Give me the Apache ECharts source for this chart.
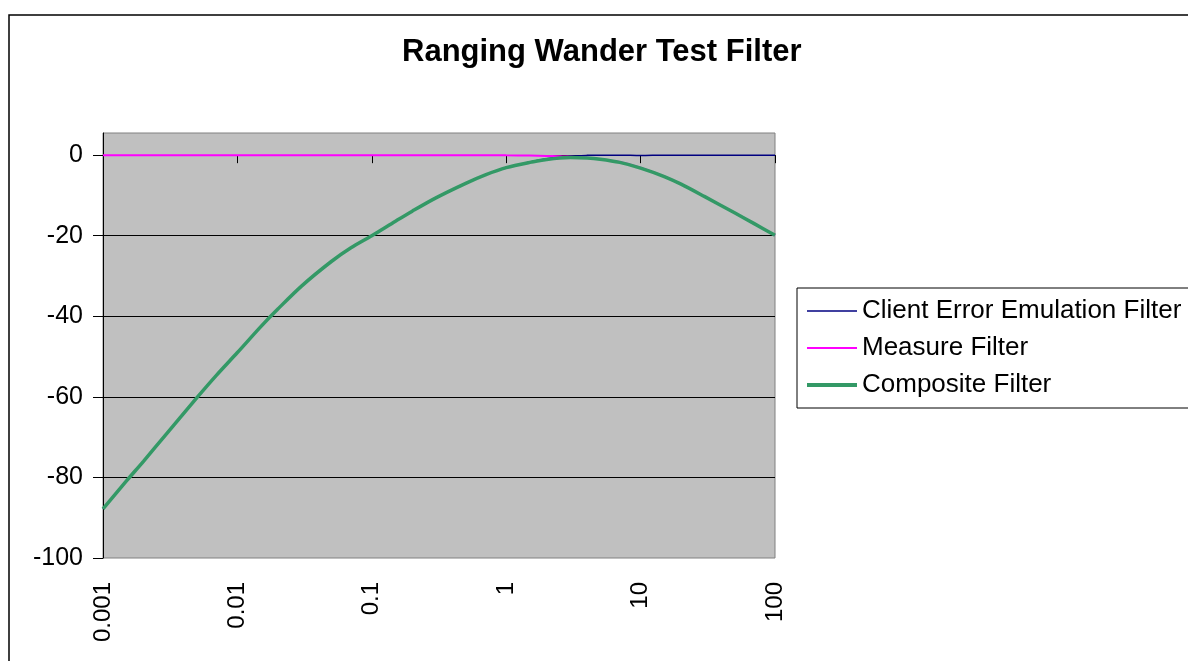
<!DOCTYPE html>
<html>
<head>
<meta charset="utf-8">
<title>Ranging Wander Test Filter</title>
<script src="https://cdn.jsdelivr.net/npm/echarts@6/dist/echarts.min.js"></script>
<style>
  html, body { margin: 0; padding: 0; background: #fff; }
  #main { width: 1188px; height: 661px; }
</style>
</head>
<body>
<div id="main"></div>
<script>
// frequency points (log x)
const freq = [0.001, 0.0015, 0.002, 0.003, 0.005, 0.007, 0.01, 0.015, 0.02, 0.03, 0.05, 0.07,
  0.1, 0.15, 0.2, 0.3, 0.5, 0.7, 1, 1.5, 2, 2.5, 3, 4, 5, 7, 10, 15, 20, 30, 50, 70, 100];

// (dB)
const clientFilter = [-87.8, -80.8, -76.0, -69.0, -60.2, -54.6, -49.0, -42.5, -38.2, -32.5, -26.4, -23.0,
  -20.0, -16.4, -13.9, -10.6, -7.0, -4.9, -3.05, -1.7, -0.9, -0.45, -0.2, -0.05, 0, 0, -0.1, 0, 0, 0, 0, 0, 0];
const measureFilter = [0, 0, 0, 0, 0, 0, 0, 0, 0, 0, 0, 0,
  0, 0, 0, 0, 0, 0, -0.05, -0.1, -0.2, -0.25, -0.4, -0.65, -1.0, -1.7, -3.1, -5.3, -7.2, -10.3, -14.3, -17.0, -19.9];
const compositeFilter = [-87.8, -80.8, -76.0, -69.0, -60.2, -54.6, -49.0, -42.5, -38.2, -32.5, -26.4, -23.0,
  -20.0, -16.4, -13.9, -10.6, -7.0, -4.9, -3.1, -1.8, -1.1, -0.7, -0.6, -0.7, -1.0, -1.8, -3.2, -5.3, -7.2, -10.3, -14.3, -17.0, -19.9];

const yTicks = [-100, -80, -60, -40, -20, 0];
const xTickLabels = ["0.001", "0.01", "0.1", "1", "10", "100"];

const FONT = "'Liberation Sans', Arial, sans-serif";

function pairs(vals) {
  return freq.map((f, i) => [f, vals[i]]);
}

var chartDom = document.getElementById("main");
var myChart = echarts.init(chartDom, null, { renderer: "canvas" });
var option;

option = {
  backgroundColor: "#fff",
  animation: false,
  title: {
    text: "Ranging Wander Test Filter",
    left: 397,
    top: 32,
    textStyle: { fontFamily: FONT, fontSize: 31, fontWeight: "bold", color: "#000" },
  },
  graphic: [
    {
      type: "rect",
      shape: { x: 9, y: 15, width: 1200, height: 700 },
      style: { fill: "none", stroke: "#000", lineWidth: 1.5 },
      silent: true,
      z: -10,
    },
  ],
  grid: {
    left: 103,
    top: 133,
    right: 413,
    bottom: 103,
    show: true,
    backgroundColor: "#c0c0c0",
    borderColor: "#808080",
    borderWidth: 1,
  },
  legend: {
    orient: "vertical",
    left: 797,
    top: 288,
    padding: [10, 40, 10, 8],
    itemGap: 11,
    itemWidth: 50,
    itemHeight: 2,
    borderColor: "#000",
    borderWidth: 1,
    itemStyle: { opacity: 0 },
    textStyle: { fontFamily: FONT, fontSize: 26, color: "#000" },
    data: [
      { name: "Client Error Emulation Filter", lineStyle: { width: 1.6 } },
      { name: "Measure Filter", lineStyle: { width: 2 } },
      { name: "Composite Filter", lineStyle: { width: 4 } },
    ],
  },
  xAxis: [
    {
      // ticks on the zero line
      type: "log",
      logBase: 10,
      min: 0.001,
      max: 100,
      axisLine: { onZero: true, lineStyle: { color: "#000", width: 1 } },
      axisTick: { show: true, length: 8, lineStyle: { color: "#000" } },
      axisLabel: { show: false },
      splitLine: { show: false },
    },
    {
      // labels along the bottom
      type: "log",
      logBase: 10,
      min: 0.001,
      max: 100,
      position: "bottom",
      axisLine: { show: false, onZero: false },
      axisTick: { show: false },
      splitLine: { show: false },
      axisLabel: {
        rotate: 90,
        margin: 24,
        fontFamily: FONT,
        fontSize: 24,
        color: "#000",
        formatter: function (v) {
          const s = String(+v.toPrecision(2));
          return xTickLabels.indexOf(s) >= 0 ? s : "";
        },
      },
    },
  ],
  yAxis: {
    type: "value",
    min: -100,
    max: 5.5,
    interval: 20,
    axisLine: { show: true, lineStyle: { color: "#000", width: 1 } },
    axisTick: { show: true, length: 10, lineStyle: { color: "#000" }, customValues: yTicks },
    axisLabel: {
      margin: 20,
      padding: [4, 0, 0, 0],
      fontFamily: FONT,
      fontSize: 25,
      color: "#000",
      customValues: yTicks,
    },
    splitLine: { show: true, showMinLine: false, showMaxLine: false, lineStyle: { color: "#000", width: 1 } },
  },
  series: [
    {
      name: "Client Error Emulation Filter",
      type: "line",
      xAxisIndex: 0,
      symbol: "none",
      smooth: 0.3,
      data: pairs(clientFilter),
      lineStyle: { color: "#000080", width: 1.5 },
      itemStyle: { color: "#000080" },
    },
    {
      name: "Measure Filter",
      type: "line",
      xAxisIndex: 0,
      symbol: "none",
      smooth: 0.3,
      data: pairs(measureFilter),
      lineStyle: { color: "#ff00ff", width: 2 },
      itemStyle: { color: "#ff00ff" },
    },
    {
      name: "Composite Filter",
      type: "line",
      xAxisIndex: 0,
      symbol: "none",
      smooth: 0.3,
      data: pairs(compositeFilter),
      lineStyle: { color: "#339966", width: 3.5 },
      itemStyle: { color: "#339966" },
    },
  ],
};

option && myChart.setOption(option);
</script>
</body>
</html>
